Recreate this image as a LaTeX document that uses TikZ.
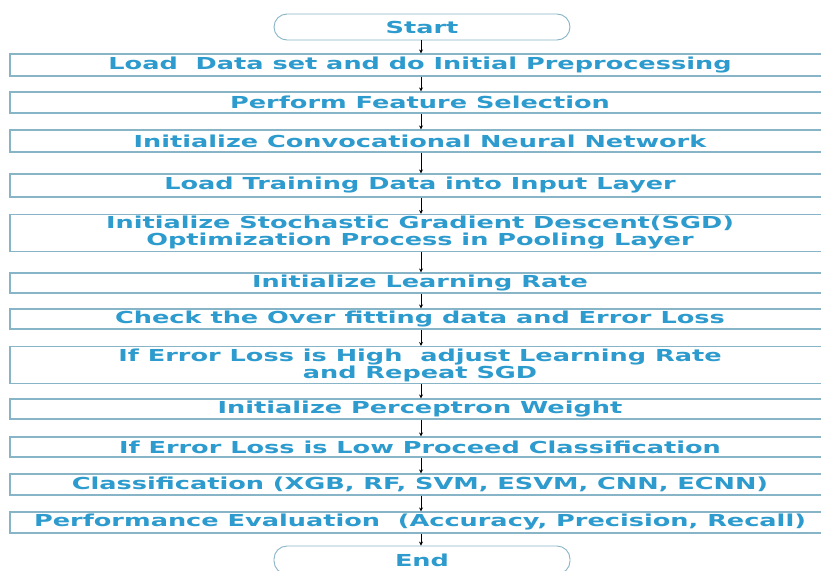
\documentclass[tikz,border=0pt]{standalone}
\usepackage{fontspec}
\setmainfont{DejaVu Sans}[FakeStretch=1.55]
\usetikzlibrary{arrows.meta}
\definecolor{txtc}{RGB}{45,155,205}
\definecolor{brd}{RGB}{135,180,198}
\tikzset{
  stepbox/.style={draw=brd, line width=1.1pt, fill=white, minimum width=820pt, inner sep=0pt,
     font=\bfseries\fontsize{16.5pt}{17pt}\selectfont, text=txtc, align=center},
  termbox/.style={draw=brd, line width=0.9pt, fill=white, rounded corners=13pt, minimum width=296pt,
     inner sep=0pt, font=\bfseries\fontsize{16.5pt}{17pt}\selectfont, text=txtc},
  conn/.style={draw=black, line width=0.9pt, -{Stealth[length=4pt,width=4pt]}}
}
\begin{document}
\begin{tikzpicture}[x=1pt,y=-1pt]
\useasboundingbox (0,0) rectangle (821,570);
\node[termbox, minimum height=26pt] (start) at (422,27) {Start};
\node[stepbox, minimum height=22pt] (b1) at (420,65) {Load\ \ Data set and do Initial Preprocessing};
\node[stepbox, minimum height=21pt] (b2) at (420,102.5) {Perform Feature Selection};
\node[stepbox, minimum height=22pt] (b3) at (420,141) {Initialize Convocational Neural Network};
\node[stepbox, minimum height=23pt] (b4) at (420,185.5) {Load Training Data into Input Layer};
\node[stepbox, minimum height=37pt] (b5) at (420,233) {Initialize Stochastic Gradient Descent(SGD)\\Optimization Process in Pooling Layer};
\node[stepbox, minimum height=20pt] (b6) at (420,283) {Initialize Learning Rate};
\node[stepbox, minimum height=20pt] (b7) at (420,319) {Check the Over fitting data and Error Loss};
\node[stepbox, minimum height=37pt] (b8) at (420,365) {If Error Loss is High\ \ adjust Learning Rate\\and Repeat SGD};
\node[stepbox, minimum height=20pt] (b9) at (420,409) {Initialize Perceptron Weight};
\node[stepbox, minimum height=20pt] (b10) at (420,447) {If Error Loss is Low Proceed Classification};
\node[stepbox, minimum height=21pt] (b11) at (420,484.5) {Classification (XGB, RF, SVM, ESVM, CNN, ECNN)};
\node[stepbox, minimum height=21pt] (b12) at (420,522.5) {Performance Evaluation\ \ (Accuracy, Precision, Recall)};
\node[termbox, minimum height=28pt] (end) at (422,560) {End};
\foreach \a/\b in {start/b1,b1/b2,b2/b3,b3/b4,b4/b5,b5/b6,b6/b7,b7/b8,b8/b9,b9/b10,b10/b11,b11/b12,b12/end}
  \draw[conn] (\a.south -| 421,0) -- (\b.north -| 421,0);
\end{tikzpicture}
\end{document}
